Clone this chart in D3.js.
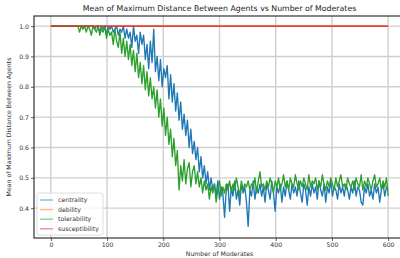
<!DOCTYPE html>
<html>
<head>
<meta charset="utf-8">
<script src="https://cdn.jsdelivr.net/npm/d3@7.9.0/dist/d3.min.js"></script>
<style>
  body { margin: 0; background: #fff; }
  svg { display: block; font-family: "DejaVu Sans", sans-serif; }
</style>
</head>
<body>
<svg id="chart" width="400" height="258"></svg>
<script>
// number of moderates (sampled every 3)
const moderates = d3.range(0, 601, 3);

const centrality = [
  1.0, 1.0, 1.0, 1.0, 1.0, 1.0, 1.0, 1.0, 1.0, 1.0, 1.0, 1.0, 1.0, 1.0, 1.0, 1.0, 1.0, 1.0, 1.0, 1.0, 1.0, 1.0, 1.0, 1.0, 1.0,
  1.0, 0.99, 1.0, 1.0, 0.98, 1.0, 0.99, 1.0, 0.97, 1.0,
  0.99, 1.0, 0.98, 0.99, 1.0, 0.97, 0.99, 0.98, 1.0, 0.96,
  0.99, 0.96, 0.98, 0.93, 1.0, 0.95, 0.97, 0.91, 0.98, 0.94,
  0.97, 0.89, 0.94, 0.86, 0.95, 0.88, 0.99, 0.85, 0.90, 0.82,
  0.89, 0.80, 0.86, 0.83, 0.87, 0.76, 0.84, 0.75, 0.81, 0.72,
  0.78, 0.69, 0.75, 0.66, 0.71, 0.64, 0.69, 0.60, 0.66, 0.58,
  0.62, 0.56, 0.60, 0.52, 0.57, 0.50, 0.54, 0.48, 0.52, 0.46,
  0.50, 0.46, 0.48, 0.44, 0.49, 0.43, 0.47, 0.45, 0.37, 0.46,
  0.48, 0.39, 0.47, 0.44, 0.49, 0.43, 0.46, 0.41, 0.48, 0.45,
  0.47, 0.42, 0.34, 0.46, 0.44, 0.49, 0.43, 0.47, 0.45, 0.48,
  0.44, 0.47, 0.42, 0.48, 0.46, 0.43, 0.49, 0.45, 0.39, 0.47,
  0.45, 0.48, 0.42, 0.47, 0.44, 0.49, 0.46, 0.43, 0.48, 0.45,
  0.47, 0.44, 0.49, 0.45, 0.42, 0.48, 0.46, 0.41, 0.47, 0.44,
  0.48, 0.45, 0.47, 0.43, 0.49, 0.46, 0.44, 0.48, 0.42, 0.47,
  0.45, 0.49, 0.44, 0.47, 0.46, 0.43, 0.48, 0.45, 0.47, 0.44,
  0.48, 0.46, 0.43, 0.47, 0.45, 0.49, 0.44, 0.47, 0.46, 0.42,
  0.41, 0.47, 0.45, 0.48, 0.44, 0.46, 0.43, 0.48, 0.45, 0.47,
  0.42, 0.46, 0.48, 0.44, 0.47, 0.46
];

const debility = [
  1.0, 1.0, 1.0, 1.0, 1.0, 1.0, 1.0, 1.0, 1.0, 1.0, 1.0, 1.0, 1.0, 1.0, 1.0, 1.0, 1.0, 1.0, 1.0, 1.0,
  1.0, 1.0, 1.0, 1.0, 1.0, 1.0, 1.0, 1.0, 1.0, 1.0, 1.0, 1.0, 1.0, 1.0, 1.0, 1.0, 1.0, 1.0, 1.0, 1.0,
  1.0, 1.0, 1.0, 1.0, 1.0, 1.0, 1.0, 1.0, 1.0, 1.0, 1.0, 1.0, 1.0, 1.0, 1.0, 1.0, 1.0, 1.0, 1.0, 1.0,
  1.0, 1.0, 1.0, 1.0, 1.0, 1.0, 1.0, 1.0, 1.0, 1.0, 1.0, 1.0, 1.0, 1.0, 1.0, 1.0, 1.0, 1.0, 1.0, 1.0,
  1.0, 1.0, 1.0, 1.0, 1.0, 1.0, 1.0, 1.0, 1.0, 1.0, 1.0, 1.0, 1.0, 1.0, 1.0, 1.0, 1.0, 1.0, 1.0, 1.0,
  1.0, 1.0, 1.0, 1.0, 1.0, 1.0, 1.0, 1.0, 1.0, 1.0, 1.0, 1.0, 1.0, 1.0, 1.0, 1.0, 1.0, 1.0, 1.0, 1.0,
  1.0, 1.0, 1.0, 1.0, 1.0, 1.0, 1.0, 1.0, 1.0, 1.0, 1.0, 1.0, 1.0, 1.0, 1.0, 1.0, 1.0, 1.0, 1.0, 1.0,
  1.0, 1.0, 1.0, 1.0, 1.0, 1.0, 1.0, 1.0, 1.0, 1.0, 1.0, 1.0, 1.0, 1.0, 1.0, 1.0, 1.0, 1.0, 1.0, 1.0,
  1.0, 1.0, 1.0, 1.0, 1.0, 1.0, 1.0, 1.0, 1.0, 1.0, 1.0, 1.0, 1.0, 1.0, 1.0, 1.0, 1.0, 1.0, 1.0, 1.0,
  1.0, 1.0, 1.0, 1.0, 1.0, 1.0, 1.0, 1.0, 1.0, 1.0, 1.0, 1.0, 1.0, 1.0, 1.0, 1.0, 1.0, 1.0, 1.0, 1.0,
  1.0
];

const tolerability = [
  1.0, 1.0, 1.0, 1.0, 1.0, 1.0, 1.0, 1.0, 1.0, 1.0, 1.0, 1.0, 1.0, 1.0, 1.0, 1.0, 1.0,
  0.98, 1.0, 0.99, 1.0, 0.98, 1.0, 0.99, 0.97, 1.0, 0.99,
  0.98, 1.0, 0.97, 0.99, 0.98, 1.0, 0.96, 0.99, 0.97, 0.98,
  0.94, 0.99, 0.95, 0.93, 0.98, 0.91, 0.96, 0.90, 0.95, 0.89,
  0.94, 0.87, 0.92, 0.85, 0.91, 0.83, 0.88, 0.81, 0.87, 0.79,
  0.85, 0.77, 0.83, 0.76, 0.80, 0.73, 0.79, 0.70, 0.76, 0.67,
  0.73, 0.64, 0.70, 0.61, 0.66, 0.57, 0.63, 0.54, 0.59, 0.46,
  0.54, 0.49, 0.56, 0.48, 0.53, 0.55, 0.47, 0.52, 0.54, 0.48,
  0.52, 0.47, 0.50, 0.45, 0.49, 0.46, 0.48, 0.43, 0.47, 0.45,
  0.48, 0.42, 0.46, 0.49, 0.44, 0.47, 0.45, 0.48, 0.46, 0.49,
  0.45, 0.48, 0.46, 0.50, 0.47, 0.44, 0.49, 0.46, 0.48, 0.47,
  0.49, 0.46, 0.48, 0.47, 0.50, 0.45, 0.49, 0.52, 0.47, 0.48,
  0.46, 0.49, 0.47, 0.50, 0.48, 0.45, 0.49, 0.47, 0.50, 0.46,
  0.48, 0.51, 0.47, 0.49, 0.46, 0.50, 0.48, 0.47, 0.51, 0.48,
  0.46, 0.49, 0.47, 0.50, 0.48, 0.46, 0.51, 0.47, 0.49, 0.48,
  0.50, 0.46, 0.49, 0.47, 0.51, 0.48, 0.46, 0.49, 0.47, 0.50,
  0.48, 0.46, 0.50, 0.47, 0.49, 0.51, 0.47, 0.48, 0.46, 0.50,
  0.48, 0.47, 0.49, 0.46, 0.50, 0.48, 0.47, 0.51, 0.46, 0.49,
  0.47, 0.50, 0.48, 0.46, 0.49, 0.51, 0.47, 0.48, 0.50, 0.46,
  0.49, 0.47, 0.50, 0.44
];

const susceptibility = debility.slice();

const seriesNames = ["centrality", "debility", "tolerability", "susceptibility"];
const seriesColors = ["#1f77b4", "#ff7f0e", "#2ca02c", "#d62728"];
const xTicks = [0, 100, 200, 300, 400, 500, 600];
const yTicks = [0.4, 0.5, 0.6, 0.7, 0.8, 0.9, 1.0];

const series = [centrality, debility, tolerability, susceptibility].map((vals, i) => ({
  name: seriesNames[i],
  color: seriesColors[i],
  values: vals.map((v, j) => ({ x: moderates[j], y: v }))
}));

const margin = { top: 16, right: -5, bottom: 20, left: 34 };
const width = 400, height = 258;
const svg = d3.select("#chart");

const x = d3.scaleLinear().domain([-30, 630]).range([margin.left, width - margin.right]);
const y = d3.scaleLinear().domain([0.3017, 1.0333]).range([height - margin.bottom, margin.top]);

// grid
svg.append("g")
  .selectAll("line")
  .data(xTicks)
  .join("line")
  .attr("x1", d => x(d)).attr("x2", d => x(d))
  .attr("y1", margin.top).attr("y2", height - margin.bottom)
  .attr("stroke", "#cfcfcf").attr("stroke-width", 1.4);

svg.append("g")
  .selectAll("line")
  .data(yTicks)
  .join("line")
  .attr("x1", margin.left).attr("x2", width)
  .attr("y1", d => y(d)).attr("y2", d => y(d))
  .attr("stroke", "#cfcfcf").attr("stroke-width", 1.4);

// lines
let line = d3.line().x(d => x(d.x)).y(d => y(d.y));

svg.append("g")
  .selectAll("path")
  .data(series)
  .join("path")
  .attr("d", d => line(d.values))
  .attr("fill", "none")
  .attr("stroke", d => d.color)
  .attr("stroke-width", 1.35)
  .attr("stroke-linejoin", "round");

// axes
const xAxis = svg.append("g")
  .attr("transform", `translate(0,${height - margin.bottom})`)
  .call(d3.axisBottom(x).tickValues(xTicks).tickSize(3).tickPadding(2).tickFormat(d3.format("d")));

const yAxis = svg.append("g")
  .attr("transform", `translate(${margin.left},0)`)
  .call(d3.axisLeft(y).tickValues(yTicks).tickSize(3).tickPadding(2).tickFormat(d3.format(".1f")));

[xAxis, yAxis].forEach(ax => {
  ax.select(".domain").remove();
  ax.selectAll(".tick line").attr("stroke", "#333").attr("stroke-width", 0.8);
  ax.selectAll(".tick text").attr("fill", "#333").attr("font-size", 6.2)
    .attr("font-family", "DejaVu Sans, sans-serif");
});

// spines
svg.append("rect")
  .attr("x", margin.left).attr("y", margin.top)
  .attr("width", x(630) - margin.left)
  .attr("height", height - margin.bottom - margin.top)
  .attr("fill", "none").attr("stroke", "#333").attr("stroke-width", 1.2);

// title and labels
svg.append("text")
  .attr("x", (margin.left + x(630)) / 2).attr("y", 11)
  .attr("text-anchor", "middle").attr("font-size", 7.8).attr("fill", "#222")
  .text("Mean of Maximum Distance Between Agents vs Number of Moderates");

svg.append("text")
  .attr("x", (margin.left + x(630)) / 2).attr("y", 256)
  .attr("text-anchor", "middle").attr("font-size", 6.2).attr("fill", "#333")
  .text("Number of Moderates");

svg.append("text")
  .attr("transform", `translate(11,${(margin.top + height - margin.bottom) / 2}) rotate(-90)`)
  .attr("text-anchor", "middle").attr("font-size", 6.2).attr("fill", "#333")
  .text("Mean of Maximum Distance Between Agents");

// legend
const legend = svg.append("g").attr("transform", "translate(37,193)");
legend.append("rect")
  .attr("width", 66).attr("height", 42).attr("rx", 2)
  .attr("fill", "#fff").attr("fill-opacity", 0.8)
  .attr("stroke", "#d6d6d6").attr("stroke-width", 0.8);

series.forEach((s, i) => {
  const g = legend.append("g").attr("transform", `translate(3,${7 + i * 9.6})`);
  g.append("line")
    .attr("x1", 0).attr("x2", 13)
    .attr("stroke", s.color).attr("stroke-width", 1.4).attr("stroke-opacity", 0.5);
  g.append("text")
    .attr("x", 18).attr("y", 2.2)
    .attr("font-size", 6.2).attr("fill", "#333")
    .text(s.name);
});
</script>
</body>
</html>
